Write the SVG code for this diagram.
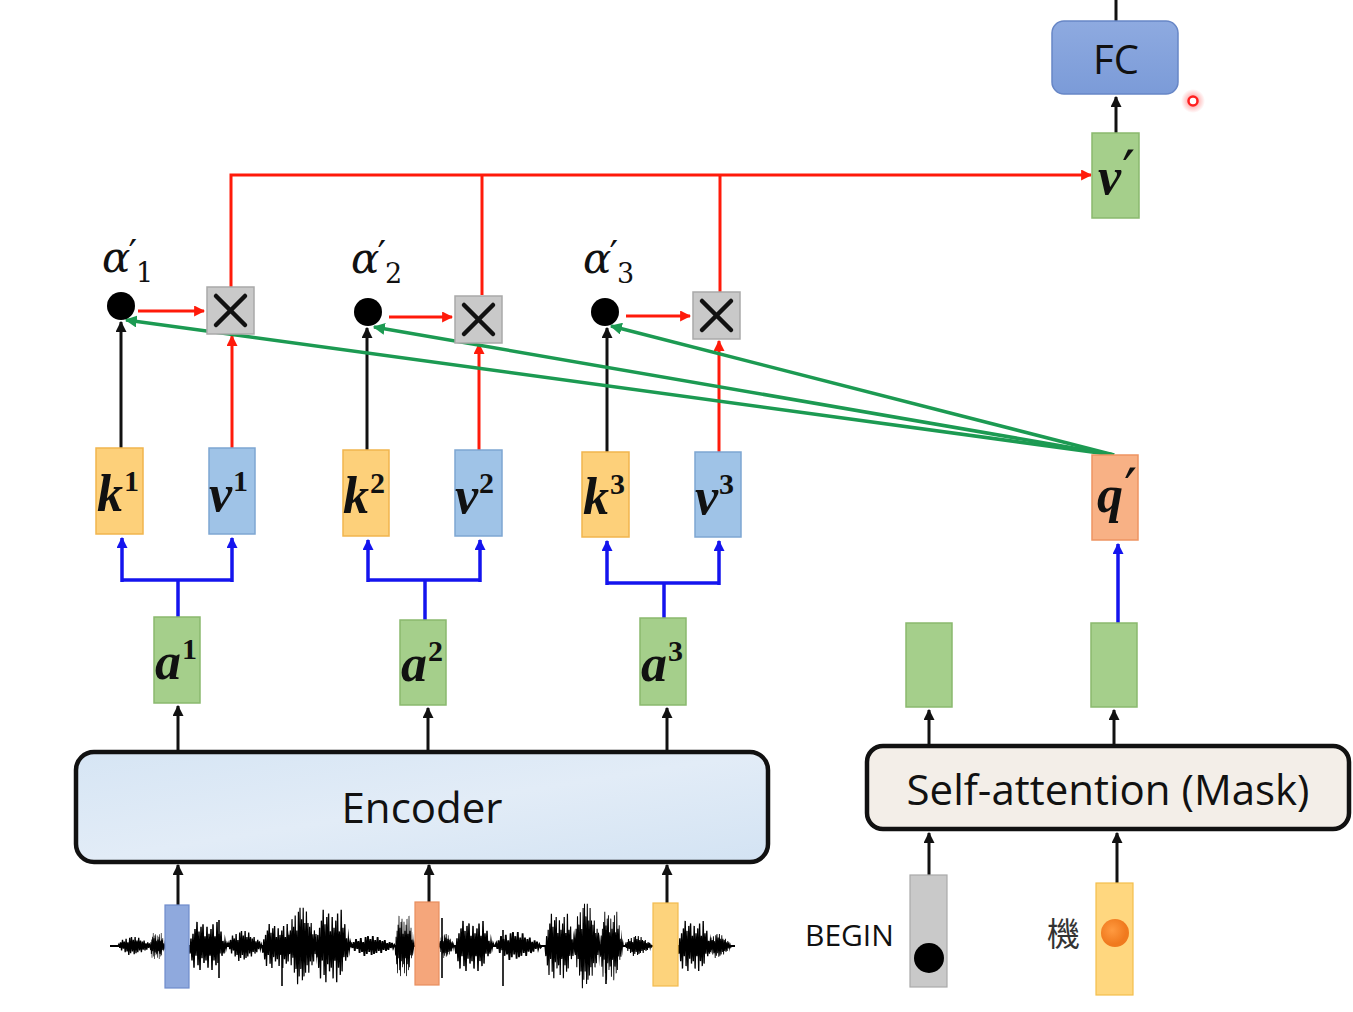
<svg xmlns="http://www.w3.org/2000/svg" xmlns:xlink="http://www.w3.org/1999/xlink" width="1353" height="1012" viewBox="0 0 1353 1012">
<defs>
<style>
.sans{font-family:"Open Sans","Noto Sans","Liberation Sans",sans-serif;fill:#111}
.var{font-family:"Liberation Serif","DejaVu Serif",serif;font-weight:bold;font-style:italic;font-size:52px;fill:#111}
.sup{font-style:normal;font-size:30px}
.pr{font-family:"DejaVu Serif",serif;font-style:normal;font-weight:normal;font-size:58px}
.alpha{font-family:"DejaVu Serif","Liberation Serif",serif;font-style:italic;font-size:42px;fill:#111}
.sub{font-style:normal;font-size:27px}
.apr{font-family:"DejaVu Sans",sans-serif;font-style:normal;font-size:38px;fill:#111}
.k{fill:#fdd07a;stroke:#f1b54e;stroke-width:1.5}
.v{fill:#9fc3e7;stroke:#7ea6d2;stroke-width:1.5}
.g{fill:#a5cf8b;stroke:#8ab96e;stroke-width:1.5}
.q{fill:#f8b185;stroke:#ee9462;stroke-width:1.5}
.x{fill:#c9c9c9;stroke:#a9a9a9;stroke-width:1.5}
.xl{stroke:#111;stroke-width:4.5;stroke-linecap:round}
.blk{stroke:#111;stroke-width:3;fill:none}
.red{stroke:#ff1a0a;stroke-width:3;fill:none}
.blu{stroke:#1414ee;stroke-width:3.5;fill:none}
.grn{stroke:#1c9a52;stroke-width:3.5;fill:none}
.wave{fill:none;stroke:#000;stroke-width:1.5}
</style>
<marker id="mb" viewBox="0 0 10 10" refX="9" refY="5" markerWidth="11" markerHeight="11" markerUnits="userSpaceOnUse" orient="auto"><path d="M0,0 L10,5 L0,10 z" fill="#111"/></marker>
<marker id="mr" viewBox="0 0 10 10" refX="9" refY="5" markerWidth="11" markerHeight="11" markerUnits="userSpaceOnUse" orient="auto"><path d="M0,0 L10,5 L0,10 z" fill="#ff1a0a"/></marker>
<marker id="mu" viewBox="0 0 10 10" refX="9" refY="5" markerWidth="11" markerHeight="11" markerUnits="userSpaceOnUse" orient="auto"><path d="M0,0 L10,5 L0,10 z" fill="#1414ee"/></marker>
<marker id="mg" viewBox="0 0 10 10" refX="9" refY="5" markerWidth="12" markerHeight="12" markerUnits="userSpaceOnUse" orient="auto"><path d="M0,0 L10,5 L0,10 z" fill="#1c9a52"/></marker>
<linearGradient id="encg" x1="0" y1="0" x2="1" y2="1"><stop offset="0" stop-color="#d6e5f4"/><stop offset="0.5" stop-color="#e2ecf7"/><stop offset="1" stop-color="#d3e3f3"/></linearGradient>
<linearGradient id="fcg" x1="0" y1="0" x2="0" y2="1"><stop offset="0" stop-color="#8eaae0"/><stop offset="1" stop-color="#7b9bd8"/></linearGradient>
<radialGradient id="glow"><stop offset="0" stop-color="#ff3030" stop-opacity="0.6"/><stop offset="1" stop-color="#ff3030" stop-opacity="0"/></radialGradient>
<radialGradient id="og" cx="0.4" cy="0.4"><stop offset="0" stop-color="#ff9a40"/><stop offset="1" stop-color="#f07a1e"/></radialGradient>
<polyline id="burst" points="0,0 1,-2 2,2 3,-4 4,5 5,-7 6,3 7,-5 8,7 9,-8 10,6 11,-4 12,10 13,-9 14,8 15,-10 16,6 17,-7 18,9 19,-10 20,8 21,-6 22,7 23,-9 24,5 25,-6 26,7 27,-5 28,4 29,-6 30,5 31,-3 32,4 33,-4 34,2 35,-3 36,2 37,-1 38,1 39,0"/>
<polyline id="burst2" points="0,0 1,3 2,-3 3,6 4,-5 5,9 6,-7 7,4 8,-10 9,8 10,-6 11,10 12,-8 13,5 14,-9 15,7 16,-4 17,6 18,-8 19,9 20,-5 21,4 22,-7 23,10 24,-9 25,6 26,-4 27,8 28,-10 29,7 30,-5 31,3 32,-6 33,4 34,-2 35,3 36,-2 37,1 38,-1 39,0"/>
<g id="xs"><rect class="x" x="0" y="0" width="47" height="47"/><line class="xl" x1="9" y1="9" x2="38" y2="38"/><line class="xl" x1="38" y1="9" x2="9" y2="38"/></g>
</defs>

<rect width="1353" height="1012" fill="#ffffff"/>

<!-- connectors -->
<g id="connectors">
  <line class="blk" x1="1116" y1="0" x2="1116" y2="21"/>
  <line class="blk" x1="1116" y1="133" x2="1116" y2="97" marker-end="url(#mb)"/>
  <path class="red" d="M231,287 V175 H1091" marker-end="url(#mr)"/>
  <line class="red" x1="482" y1="295" x2="482" y2="175"/>
  <line class="red" x1="720" y1="292" x2="720" y2="175"/>
  <line class="red" x1="138" y1="311" x2="204" y2="311" marker-end="url(#mr)"/>
  <line class="red" x1="389" y1="317" x2="452" y2="317" marker-end="url(#mr)"/>
  <line class="red" x1="626" y1="316" x2="690" y2="316" marker-end="url(#mr)"/>
  <line class="red" x1="232" y1="448" x2="232" y2="336" marker-end="url(#mr)"/>
  <line class="red" x1="479" y1="450" x2="479" y2="344" marker-end="url(#mr)"/>
  <line class="red" x1="719" y1="452" x2="719" y2="341" marker-end="url(#mr)"/>
  <line class="blk" x1="121" y1="448" x2="121" y2="322" marker-end="url(#mb)"/>
  <line class="blk" x1="367" y1="450" x2="367" y2="328" marker-end="url(#mb)"/>
  <line class="blk" x1="607" y1="452" x2="607" y2="328" marker-end="url(#mb)"/>
  <line class="grn" x1="1114" y1="455" x2="126" y2="320" marker-end="url(#mg)"/>
  <line class="grn" x1="1114" y1="455" x2="374" y2="327" marker-end="url(#mg)"/>
  <line class="grn" x1="1114" y1="455" x2="611" y2="326" marker-end="url(#mg)"/>
  <path class="blu" d="M178,617 V580"/>
  <path class="blu" d="M122,580 H232"/>
  <line class="blu" x1="122" y1="582" x2="122" y2="538" marker-end="url(#mu)"/>
  <line class="blu" x1="232" y1="582" x2="232" y2="538" marker-end="url(#mu)"/>
  <path class="blu" d="M425,620 V580"/>
  <path class="blu" d="M368,580 H480"/>
  <line class="blu" x1="368" y1="582" x2="368" y2="540" marker-end="url(#mu)"/>
  <line class="blu" x1="480" y1="582" x2="480" y2="540" marker-end="url(#mu)"/>
  <path class="blu" d="M664,618 V583"/>
  <path class="blu" d="M607,583 H719"/>
  <line class="blu" x1="607" y1="585" x2="607" y2="541" marker-end="url(#mu)"/>
  <line class="blu" x1="719" y1="585" x2="719" y2="541" marker-end="url(#mu)"/>
  <line class="blu" x1="1118" y1="623" x2="1118" y2="544" marker-end="url(#mu)"/>
  <line class="blk" x1="178" y1="752" x2="178" y2="706" marker-end="url(#mb)"/>
  <line class="blk" x1="428" y1="752" x2="428" y2="708" marker-end="url(#mb)"/>
  <line class="blk" x1="667" y1="752" x2="667" y2="708" marker-end="url(#mb)"/>
  <line class="blk" x1="178" y1="905" x2="178" y2="865" marker-end="url(#mb)"/>
  <line class="blk" x1="429" y1="902" x2="429" y2="865" marker-end="url(#mb)"/>
  <line class="blk" x1="667" y1="903" x2="667" y2="865" marker-end="url(#mb)"/>
  <line class="blk" x1="929" y1="745" x2="929" y2="710" marker-end="url(#mb)"/>
  <line class="blk" x1="1114" y1="745" x2="1114" y2="710" marker-end="url(#mb)"/>
  <line class="blk" x1="929" y1="875" x2="929" y2="833" marker-end="url(#mb)"/>
  <line class="blk" x1="1117" y1="883" x2="1117" y2="833" marker-end="url(#mb)"/>
</g>

<g id="fc">
  <rect x="1052" y="21" width="126" height="73" rx="12" fill="url(#fcg)" stroke="#6786c6" stroke-width="1.5"/>
  <text class="sans" x="1116" y="74" font-size="40" text-anchor="middle" fill="#1d2637">FC</text>
</g>
<g id="pointer">
  <circle cx="1193" cy="101" r="12" fill="url(#glow)"/>
  <circle cx="1193" cy="101" r="4.5" fill="#fff" stroke="#ff2020" stroke-width="2.5"/>
</g>

<g id="vprime">
  <rect class="g" x="1092" y="133" width="47" height="85"/>
  <text class="var" x="1098" y="194">v<tspan class="pr" dx="1" dy="-2">′</tspan></text>
</g>

<g id="alpha1">
  <circle cx="121" cy="306" r="14" fill="#000"/>
  <text class="alpha" x="102" y="272">α<tspan class="apr" dx="-2" dy="-6">′</tspan><tspan class="sub" dx="-1" dy="16">1</tspan></text>
</g>
<g id="alpha2">
  <circle cx="368" cy="312" r="14" fill="#000"/>
  <text class="alpha" x="351" y="273">α<tspan class="apr" dx="-2" dy="-6">′</tspan><tspan class="sub" dx="-1" dy="16">2</tspan></text>
</g>
<g id="alpha3">
  <circle cx="605" cy="312" r="14" fill="#000"/>
  <text class="alpha" x="583" y="273">α<tspan class="apr" dx="-2" dy="-6">′</tspan><tspan class="sub" dx="-1" dy="16">3</tspan></text>
</g>

<g id="mul1"><use xlink:href="#xs" x="207" y="287"/></g>
<g id="mul2"><use xlink:href="#xs" x="455" y="296"/></g>
<g id="mul3"><use xlink:href="#xs" x="693" y="292"/></g>

<g id="k1"><rect class="k" x="96" y="448" width="47" height="86"/><text class="var" x="97" y="511">k<tspan class="sup" dx="1" dy="-20">1</tspan></text></g>
<g id="v1"><rect class="v" x="209" y="448" width="46" height="86"/><text class="var" x="209" y="511">v<tspan class="sup" dx="1" dy="-20">1</tspan></text></g>
<g id="k2"><rect class="k" x="343" y="450" width="46" height="86"/><text class="var" x="343" y="513">k<tspan class="sup" dx="1" dy="-20">2</tspan></text></g>
<g id="v2"><rect class="v" x="455" y="450" width="47" height="86"/><text class="var" x="455" y="513">v<tspan class="sup" dx="1" dy="-20">2</tspan></text></g>
<g id="k3"><rect class="k" x="582" y="452" width="47" height="85"/><text class="var" x="583" y="514">k<tspan class="sup" dx="1" dy="-20">3</tspan></text></g>
<g id="v3"><rect class="v" x="695" y="452" width="46" height="85"/><text class="var" x="695" y="514">v<tspan class="sup" dx="1" dy="-20">3</tspan></text></g>

<g id="qprime"><rect class="q" x="1092" y="455" width="46" height="85"/><text class="var" x="1097" y="512">q<tspan class="pr" dx="1" dy="-2">′</tspan></text></g>

<g id="a1"><rect class="g" x="154" y="617" width="46" height="86"/><text class="var" x="155" y="679">a<tspan class="sup" dx="1" dy="-20">1</tspan></text></g>
<g id="a2"><rect class="g" x="400" y="620" width="46" height="85"/><text class="var" x="401" y="681">a<tspan class="sup" dx="1" dy="-20">2</tspan></text></g>
<g id="a3"><rect class="g" x="640" y="618" width="46" height="87"/><text class="var" x="641" y="681">a<tspan class="sup" dx="1" dy="-20">3</tspan></text></g>

<g id="dec1"><rect class="g" x="906" y="623" width="46" height="84"/></g>
<g id="dec2"><rect class="g" x="1091" y="623" width="46" height="84"/></g>

<g id="encoder">
  <rect x="76" y="752" width="692" height="110" rx="18" fill="url(#encg)" stroke="#111" stroke-width="4.5"/>
  <text class="sans" x="422" y="823" font-size="42" text-anchor="middle">Encoder</text>
</g>

<g id="selfattn">
  <rect x="867" y="746" width="482" height="83" rx="16" fill="#f3eee8" stroke="#111" stroke-width="4.5"/>
  <text class="sans" x="1108" y="805" font-size="42" text-anchor="middle">Self-attention (Mask)</text>
</g>

<g id="waveform">
  <line x1="110" y1="946" x2="735" y2="946" stroke="#000" stroke-width="2"/>
  <g class="wave">
    <use xlink:href="#burst" transform="translate(118,946) scale(0.9,0.9)"/>
    <use xlink:href="#burst2" transform="translate(150,946) scale(0.4,1.3)"/>
    <use xlink:href="#burst2" transform="translate(189,946) scale(1.0,2.4)"/>
    <use xlink:href="#burst" transform="translate(228,946) scale(0.9,1.5)"/>
    <use xlink:href="#burst2" transform="translate(262,946) scale(0.9,2.2)"/>
    <use xlink:href="#burst" transform="translate(288,946) scale(0.8,3.8)"/>
    <use xlink:href="#burst2" transform="translate(316,946) scale(0.9,3.6)"/>
    <use xlink:href="#burst" transform="translate(350,946) scale(1.2,1.0)"/>
    <use xlink:href="#burst2" transform="translate(395,946) scale(0.5,3.0)"/>
    <use xlink:href="#burst" transform="translate(439,946) scale(0.4,1.2)"/>
    <use xlink:href="#burst2" transform="translate(455,946) scale(1.0,2.5)"/>
    <use xlink:href="#burst" transform="translate(495,946) scale(1.2,1.4)"/>
    <use xlink:href="#burst2" transform="translate(545,946) scale(0.8,3.2)"/>
    <use xlink:href="#burst" transform="translate(574,946) scale(0.7,4.2)"/>
    <use xlink:href="#burst2" transform="translate(600,946) scale(0.6,3.4)"/>
    <use xlink:href="#burst" transform="translate(625,946) scale(0.7,1.0)"/>
    <use xlink:href="#burst2" transform="translate(678,946) scale(0.9,2.5)"/>
    <use xlink:href="#burst" transform="translate(708,946) scale(0.6,1.2)"/>
  </g>
  <path d="M219,920 V978 M282,935 V986 M442,918 V978 M503,930 V986 M606,930 V984" stroke="#000" stroke-width="1.6"/>
  <rect x="165" y="905" width="24" height="83" fill="#8fa9dd" stroke="#6f8ccc" stroke-width="1.2"/>
  <rect x="415" y="902" width="24" height="83" fill="#f5a67b" stroke="#e88e5e" stroke-width="1.2"/>
  <rect x="653" y="903" width="25" height="83" fill="#fdd37c" stroke="#f2bb4f" stroke-width="1.2"/>
</g>

<g id="begin">
  <rect x="910" y="875" width="37" height="112" fill="#c9c9c9" stroke="#aaaaaa" stroke-width="1.2"/>
  <circle cx="929" cy="958" r="15" fill="#000"/>
  <text class="sans" x="805" y="946" font-size="30">BEGIN</text>
</g>

<g id="ji">
  <rect x="1096" y="883" width="37" height="112" fill="#ffd77f" stroke="#f3be4c" stroke-width="1.2"/>
  <circle cx="1115" cy="933" r="14" fill="url(#og)"/>
  <text x="1047" y="946" font-size="33" fill="#333" font-family="'Noto Sans CJK TC','Noto Sans CJK SC',sans-serif">機</text>
</g>
</svg>
